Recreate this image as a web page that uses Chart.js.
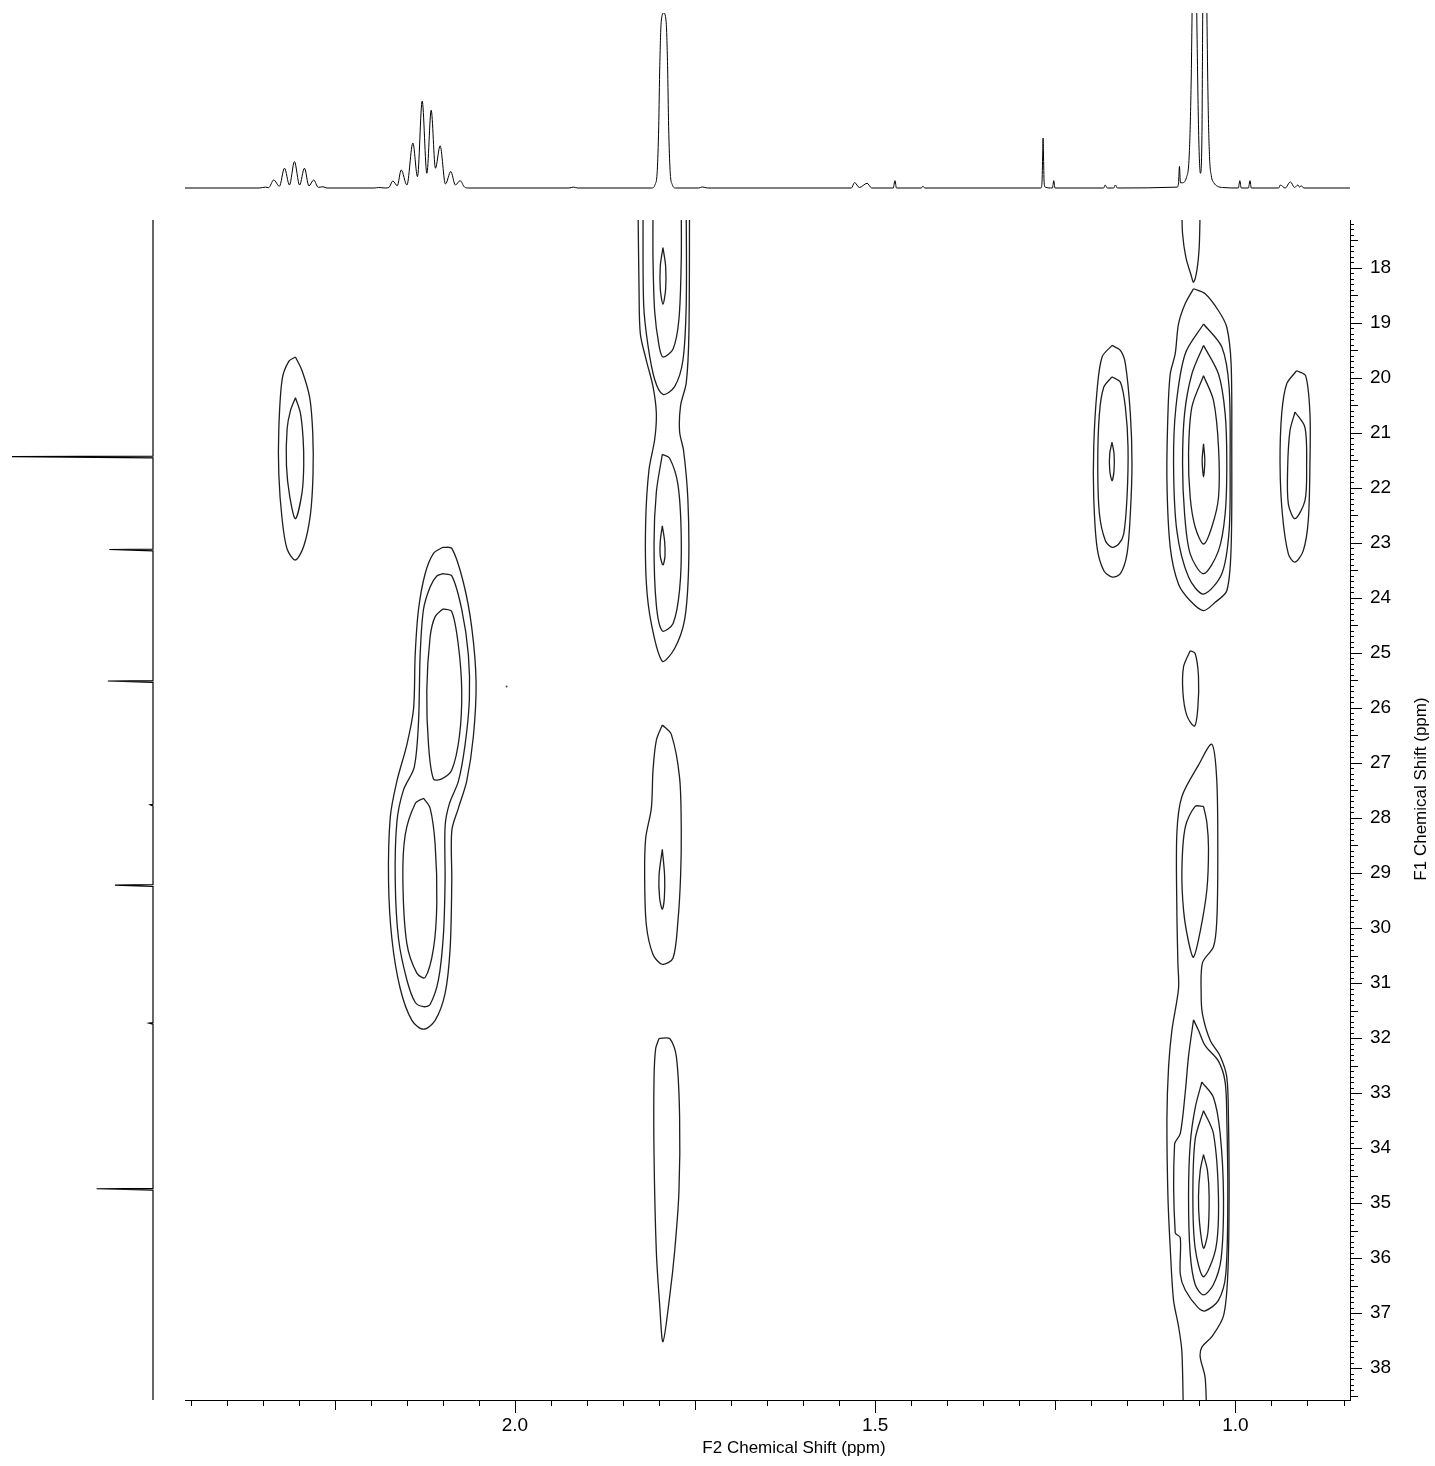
<!DOCTYPE html>
<html>
<head>
<meta charset="utf-8">
<script src="https://cdn.jsdelivr.net/npm/chart.js@4.4.1/dist/chart.umd.min.js"></script>
<style>
  html, body { margin: 0; padding: 0; background: #fff; }
  #wrap { position: relative; width: 1435px; height: 1466px; }
  .box { position: absolute; }
</style>
</head>
<body>
<div id="wrap">
  <div class="box" style="left:0;top:0"><canvas id="main" width="1435" height="1466"></canvas></div>
  <div class="box" style="left:185px;top:8px"><canvas id="proton" width="1165" height="185"></canvas></div>
  <div class="box" style="left:0;top:215px"><canvas id="carbon" width="160" height="1190"></canvas></div>
</div>
<script>
// axis ranges (ppm) and labelled ticks
const f2Range = [0.841, 2.458];
const f1Range = [17.13, 38.58];
const f2Labels = [2.0, 1.5, 1.0];
const f1Labels = [18, 19, 20, 21, 22, 23, 24, 25, 26, 27, 28, 29, 30, 31, 32, 33, 34, 35, 36, 37, 38];
const f2MinorStep = 0.05;
const f1MinorStep = 0.1;

// 1H projection (top), [ppm, intensity]
const protonSpectrum = [
  [2.458, 0], [2.355, 0], [2.3463, 0.5], [2.3420, 0.2], [2.3348, 4.6], [2.3270, 1.0], [2.3199, 11.3],
  [2.3130, 1.7], [2.3061, 15.1], [2.2990, 1.7], [2.2922, 11.3], [2.2860, 1.2], [2.2794, 4.6],
  [2.2730, 0.4], [2.2663, 0.7], [2.2610, 0], [2.195, 0], [2.1893, 0.3], [2.1800, 0], [2.1750, 0.3],
  [2.1694, 4.0], [2.1634, 1.3], [2.1579, 10.3], [2.1500, 1.7], [2.1417, 25.7], [2.1353, 6.5],
  [2.1288, 49.6], [2.1223, 8.4], [2.1163, 44.4], [2.1104, 11.3], [2.1039, 24.1], [2.0965, 2.3],
  [2.0891, 9.4], [2.0827, 1.7], [2.0762, 4.2], [2.0700, 0.5], [2.0650, 0], [1.925, 0], [1.919, 0.5],
  [1.913, 0], [1.8100, 0], [1.8055, 2], [1.8025, 10], [1.8005, 35], [1.7990, 70], [1.7970, 95],
  [1.7936, 100], [1.7902, 95], [1.7882, 70], [1.7867, 35], [1.7847, 10], [1.7817, 2], [1.7772, 0],
  [1.7450, 0], [1.7399, 0.6], [1.7330, 0], [1.5330, 0], [1.5287, 3.1], [1.5220, 0.3], [1.5112, 2.7],
  [1.5050, 0], [1.4750, 0], [1.4726, 4.2], [1.4705, 0], [1.4360, 0], [1.4339, 1.0], [1.4310, 0],
  [1.2700, 0], [1.2685, 3], [1.2675, 20], [1.2670, 28.5], [1.2665, 20], [1.2655, 3], [1.2640, 0.5],
  [1.2540, 0], [1.2522, 4.2], [1.2505, 0], [1.1830, 0], [1.1807, 1.7], [1.1780, 0], [1.1690, 0],
  [1.1666, 1.7], [1.1640, 0], [1.0810, 0.5], [1.0790, 3], [1.0777, 12.3], [1.0764, 3], [1.0740, 3],
  [1.0680, 6], [1.0640, 20], [1.0615, 60], [1.0602, 100], [1.0571, 220], [1.0537, 100], [1.0510, 30],
  [1.0486, 8.4], [1.0465, 30], [1.0454, 100], [1.0425, 220], [1.0396, 100], [1.0380, 50], [1.0360, 18],
  [1.0335, 7], [1.0300, 3], [1.0250, 1], [1.0180, 0.3], [0.9960, 0], [0.9939, 4.2], [0.9920, 0],
  [0.9820, 0], [0.9798, 4.2], [0.9780, 0], [0.9400, 0], [0.9378, 1.7], [0.9310, 0], [0.9237, 3.5],
  [0.9180, 0.3], [0.9134, 1.7], [0.9110, 0.5], [0.9089, 1.3], [0.9050, 0], [0.841, 0]
];

// 13C projection (left), [ppm, intensity]
const carbonSpectrum = [
  [17.13, 0], [21.422, 0], [21.43, 100], [21.455, 0], [23.112, 0], [23.12, 31], [23.145, 0],
  [25.502, 0], [25.51, 32], [25.535, 0], [27.75, 0], [27.76, 2], [27.78, 0], [29.212, 0], [29.22, 27],
  [29.245, 0], [31.72, 0], [31.73, 2.8], [31.75, 0], [34.732, 0], [34.74, 40], [34.765, 0], [38.58, 0]
];

// HSQC contours, [F2 ppm, F1 ppm]; each cross peak from outer to inner level
const peak230 = [
  [[2.3047,19.62],[2.2955,19.87],[2.2849,20.36],[2.2807,21.00],[2.2803,21.75],[2.2840,22.49],[2.2932,23.06],[2.3047,23.31],[2.3163,23.11],[2.3232,22.57],[2.3278,21.75],[2.3278,20.93],[2.3232,20.03],[2.3140,19.70]],
  [[2.3047,20.36],[2.2978,20.64],[2.2941,21.10],[2.2932,21.59],[2.2955,22.08],[2.3047,22.56],[2.3126,22.16],[2.3172,21.59],[2.3163,20.93],[2.3117,20.60]]
];
const peak212 = [
  [[2.1002,23.08],[2.0877,23.10],[2.0716,23.72],[2.0600,24.54],[2.0540,25.53],[2.0577,26.51],[2.0670,27.33],[2.0785,27.82],[2.0877,28.23],[2.0877,29.14],[2.0900,30.37],[2.0970,31.19],[2.1108,31.68],[2.1270,31.84],[2.1431,31.68],[2.1593,31.10],[2.1708,30.20],[2.1755,29.14],[2.1731,27.99],[2.1639,27.33],[2.1501,26.67],[2.1408,26.02],[2.1385,25.03],[2.1339,24.21],[2.1247,23.56],[2.1131,23.19]],
  [[2.1002,23.56],[2.0877,23.60],[2.0739,24.21],[2.0647,25.03],[2.0633,25.85],[2.0693,26.67],[2.0785,27.33],[2.0910,27.74],[2.0970,28.15],[2.0970,29.14],[2.0993,30.12],[2.1062,30.94],[2.1178,31.39],[2.1270,31.43],[2.1385,31.35],[2.1501,30.94],[2.1616,30.20],[2.1662,29.14],[2.1639,28.07],[2.1547,27.49],[2.1399,27.08],[2.1339,26.26],[2.1316,25.03],[2.1270,24.21],[2.1178,23.80],[2.1085,23.60]],
  [[2.1002,24.20],[2.0877,24.25],[2.0785,24.87],[2.0739,25.69],[2.0771,26.51],[2.0877,27.13],[2.1016,27.29],[2.1131,27.29],[2.1200,26.67],[2.1224,25.69],[2.1178,24.71],[2.1108,24.34]],
  [[2.1270,27.64],[2.1178,27.82],[2.1108,28.48],[2.1085,29.55],[2.1131,30.37],[2.1247,30.90],[2.1362,30.82],[2.1501,30.28],[2.1556,29.14],[2.1524,28.31],[2.1385,27.74]]
];
const peak180 = [
  [[1.7955,21.39],[1.7853,21.46],[1.7738,21.94],[1.7692,22.90],[1.7715,23.85],[1.7807,24.47],[1.7955,24.60],[1.8038,24.13],[1.8070,23.03],[1.8038,22.08]],
  [[1.7946,17.63],[1.7909,17.97],[1.7909,18.39],[1.7946,18.66],[1.7983,18.39],[1.7983,17.97]],
  [[1.7955,22.69],[1.7923,22.97],[1.7918,23.24],[1.7946,23.40],[1.7983,23.24],[1.7983,22.97]],
  [[1.7955,26.31],[1.7830,26.48],[1.7715,27.27],[1.7692,28.23],[1.7701,29.05],[1.7738,29.87],[1.7807,30.55],[1.7955,30.66],[1.8084,30.48],[1.8177,29.94],[1.8200,29.05],[1.8186,28.37],[1.8107,27.82],[1.8084,27.13],[1.8038,26.59]],
  [[1.7955,28.57],[1.7923,29.05],[1.7927,29.46],[1.7955,29.66],[1.7992,29.46],[1.8001,29.05]],
  [[1.8001,32.01],[1.7853,32.01],[1.7761,32.33],[1.7715,33.42],[1.7724,34.79],[1.7784,35.88],[1.7853,36.70],[1.7946,37.52],[1.7992,36.84],[1.8038,35.88],[1.8070,34.11],[1.8070,32.74],[1.8047,32.19]]
];
// levels that run off the top of the plot
const peak180Open = [
  [[1.8084,16.88],[1.8084,17.84],[1.8061,18.79],[1.8001,19.41],[1.7946,19.62],[1.7807,19.48],[1.7724,18.93],[1.7692,17.84],[1.7692,16.88]],
  [[1.8223,16.88],[1.8214,18.66],[1.8154,19.41],[1.8061,20.03],[1.7946,20.30],[1.7784,20.16],[1.7669,19.68],[1.7623,18.66],[1.7623,16.88]],
  [[1.8292,16.88],[1.8278,18.39],[1.8260,19.20],[1.8177,19.68],[1.8084,20.16],[1.8038,20.64],[1.8061,21.12],[1.8140,21.67],[1.8186,22.62],[1.8177,23.72],[1.8107,24.47],[1.7955,25.15],[1.7784,24.92],[1.7646,24.40],[1.7590,23.44],[1.7600,22.21],[1.7660,21.32],[1.7715,20.98],[1.7701,20.50],[1.7623,20.09],[1.7586,19.20],[1.7577,16.88]]
];
const peak117 = [
  [[1.1713,19.41],[1.1597,19.50],[1.1528,19.74],[1.1459,20.65],[1.1436,21.56],[1.1459,22.47],[1.1505,23.20],[1.1597,23.56],[1.1713,23.62],[1.1828,23.50],[1.1921,23.08],[1.1967,22.17],[1.1967,21.26],[1.1921,20.23],[1.1851,19.62]],
  [[1.1713,19.98],[1.1597,20.08],[1.1528,20.53],[1.1491,21.26],[1.1505,22.17],[1.1551,22.84],[1.1620,23.02],[1.1713,23.08],[1.1805,22.96],[1.1888,22.47],[1.1911,21.56],[1.1888,20.65],[1.1828,20.17]],
  [[1.1713,21.17],[1.1685,21.38],[1.1685,21.68],[1.1713,21.87],[1.1745,21.68],[1.1745,21.38]]
];
const peak088 = [
  [[0.9150,19.87],[0.9026,19.96],[0.8966,20.65],[0.8966,21.56],[0.8989,22.59],[0.9058,23.14],[0.9173,23.35],[0.9266,23.20],[0.9349,22.47],[0.9381,21.56],[0.9358,20.65],[0.9289,20.11]],
  [[0.9173,20.62],[0.9035,20.90],[0.9012,21.62],[0.9035,22.23],[0.9173,22.56],[0.9266,22.29],[0.9275,21.62],[0.9243,20.96]]
];
const peak105 = [
  [[1.0582,18.38],[1.0420,18.47],[1.0235,18.78],[1.0120,19.08],[1.0060,19.75],[1.0051,21.26],[1.0060,23.08],[1.0120,23.87],[1.0282,24.08],[1.0443,24.23],[1.0628,24.05],[1.0790,23.75],[1.0905,23.08],[1.0951,21.87],[1.0937,20.65],[1.0905,19.93],[1.0836,19.56],[1.0790,19.02],[1.0697,18.65]],
  [[1.0443,19.02],[1.0189,19.44],[1.0088,20.17],[1.0074,21.56],[1.0088,22.78],[1.0189,23.56],[1.0443,23.93],[1.0651,23.62],[1.0813,22.78],[1.0859,21.56],[1.0826,20.53],[1.0697,19.56]],
  [[1.0443,19.41],[1.0235,19.93],[1.0143,20.65],[1.0120,21.56],[1.0143,22.47],[1.0235,23.14],[1.0443,23.56],[1.0628,23.20],[1.0706,22.47],[1.0734,21.56],[1.0706,20.65],[1.0605,19.93]],
  [[1.0443,19.96],[1.0305,20.41],[1.0235,21.26],[1.0235,22.17],[1.0328,22.71],[1.0443,23.02],[1.0559,22.71],[1.0628,22.17],[1.0651,21.38],[1.0605,20.53]],
  [[1.0443,21.20],[1.0425,21.50],[1.0443,21.80],[1.0462,21.50]],
  [[1.0628,24.96],[1.0559,25.01],[1.0513,25.43],[1.0522,26.00],[1.0568,26.33],[1.0674,26.14],[1.0729,25.72],[1.0720,25.25]],
  [[1.0443,27.79],[1.0397,28.08],[1.0374,28.55],[1.0397,29.31],[1.0489,30.06],[1.0582,30.53],[1.0651,30.25],[1.0720,29.68],[1.0743,28.93],[1.0697,28.17],[1.0559,27.79]],
  [[1.0582,31.67],[1.0513,31.86],[1.0420,32.14],[1.0236,32.42],[1.0143,32.80],[1.0120,33.46],[1.0106,34.88],[1.0134,36.29],[1.0236,36.77],[1.0420,36.96],[1.0513,36.91],[1.0697,36.58],[1.0766,36.29],[1.0766,35.63],[1.0836,35.54],[1.0845,33.93],[1.0766,33.74],[1.0697,32.99],[1.0651,32.33]],
  [[1.0466,32.80],[1.0305,33.08],[1.0212,33.74],[1.0166,34.88],[1.0199,36.01],[1.0305,36.48],[1.0443,36.67],[1.0559,36.48],[1.0628,35.92],[1.0651,34.88],[1.0628,33.93],[1.0559,33.27]],
  [[1.0443,33.32],[1.0305,33.74],[1.0236,34.88],[1.0272,35.82],[1.0443,36.34],[1.0559,35.82],[1.0591,34.88],[1.0559,33.84]],
  [[1.0443,34.12],[1.0388,34.41],[1.0365,34.88],[1.0383,35.54],[1.0443,35.82],[1.0499,35.35],[1.0513,34.88],[1.0489,34.41]]
];
const peak105Open = [
  [[1.0743,16.96],[1.0734,17.38],[1.0688,17.81],[1.0614,18.14],[1.0582,18.26],[1.0536,18.05],[1.0503,17.62],[1.0490,16.96]],
  [[1.0720,39.13],[1.0743,37.71],[1.0790,37.24],[1.0859,36.77],[1.0905,35.82],[1.0937,34.88],[1.0951,33.46],[1.0928,32.52],[1.0882,31.86],[1.0790,31.10],[1.0799,30.63],[1.0813,29.68],[1.0813,28.27],[1.0743,27.61],[1.0513,27.04],[1.0328,26.66],[1.0259,27.32],[1.0245,28.74],[1.0259,29.87],[1.0305,30.34],[1.0457,30.63],[1.0476,31.19],[1.0457,31.57],[1.0351,32.04],[1.0212,32.33],[1.0120,32.71],[1.0097,33.46],[1.0088,34.88],[1.0106,36.29],[1.0166,37.05],[1.0328,37.43],[1.0466,37.62],[1.0489,37.80],[1.0420,38.18],[1.0397,39.13]]
];
const noisePoints = [[2.0116, 25.61]];

const FONT = '"Liberation Sans", Arial, sans-serif';
const LINE = '#1e1e1e';

const toXY = pts => pts.map(([x, y]) => ({ x, y }));
const closedSets = [...peak230, ...peak212, ...peak180, ...peak117, ...peak088, ...peak105];
const openSets = [...peak180Open, ...peak105Open];

const contourDatasets = [
  ...closedSets.map(pts => ({ data: toXY([...pts, pts[0]]) })),
  ...openSets.map(pts => ({ data: toXY(pts) }))
].map(ds => ({
  ...ds, showLine: true, borderColor: LINE, borderWidth: 1.3, pointRadius: 0, tension: 0.3
}));

contourDatasets.push({
  data: toXY(noisePoints), showLine: false, pointRadius: 1, pointBackgroundColor: '#444', pointBorderWidth: 0
});

// minor / major tick marks (Chart.js has no minor ticks) and axis titles
const tickMarks = {
  id: 'tickMarks',
  afterDraw(chart) {
    const { ctx, chartArea: a, scales: { x, y } } = chart;
    ctx.save();
    ctx.strokeStyle = '#000';
    ctx.lineWidth = 1;
    ctx.beginPath();
    for (let i = Math.ceil(f2Range[0] / f2MinorStep); i <= Math.floor(f2Range[1] / f2MinorStep); i++) {
      const px = Math.round(x.getPixelForValue(i * f2MinorStep)) + 0.5;
      const len = i % 10 === 0 ? 13 : i % 5 === 0 ? 10 : 6;
      ctx.moveTo(px, a.bottom);
      ctx.lineTo(px, a.bottom + len);
    }
    for (let i = Math.ceil(f1Range[0] / f1MinorStep); i <= Math.floor(f1Range[1] / f1MinorStep); i++) {
      const py = Math.round(y.getPixelForValue(i * f1MinorStep)) + 0.5;
      const len = i % 10 === 0 ? 12 : i % 5 === 0 ? 8 : 4;
      ctx.moveTo(a.right, py);
      ctx.lineTo(a.right + len, py);
    }
    ctx.stroke();

    ctx.fillStyle = '#000';
    ctx.font = '17px ' + FONT;
    ctx.textAlign = 'center';
    ctx.textBaseline = 'middle';
    ctx.fillText('F2 Chemical Shift (ppm)', 794, 1448);
    ctx.translate(1421, 789);
    ctx.rotate(-Math.PI / 2);
    ctx.fillText('F1 Chemical Shift (ppm)', 0, 0);
    ctx.restore();
  }
};

new Chart(document.getElementById('main'), {
  type: 'scatter',
  data: { datasets: contourDatasets },
  options: {
    responsive: false,
    animation: false,
    devicePixelRatio: 1,
    layout: { padding: { left: 185, top: 220, right: 0, bottom: 0 } },
    plugins: { legend: { display: false }, tooltip: { enabled: false } },
    scales: {
      x: {
        type: 'linear', position: 'bottom', reverse: true,
        min: f2Range[0], max: f2Range[1],
        afterBuildTicks: s => { s.ticks = f2Labels.map(v => ({ value: v })); },
        afterFit: s => { s.height = 66; },
        grid: { display: false, drawTicks: false },
        border: { display: true, color: '#000', width: 1 },
        ticks: {
          autoSkip: false, maxRotation: 0, padding: 14, color: '#000',
          font: { family: FONT, size: 19 },
          callback: v => Number(v).toFixed(1)
        }
      },
      y: {
        type: 'linear', position: 'right', reverse: true,
        min: f1Range[0], max: f1Range[1],
        afterBuildTicks: s => { s.ticks = f1Labels.map(v => ({ value: v })); },
        afterFit: s => { s.width = 85; },
        grid: { display: false, drawTicks: false },
        border: { display: true, color: '#000', width: 1 },
        ticks: {
          autoSkip: false, padding: 20, color: '#000',
          font: { family: FONT, size: 19 },
          callback: v => String(v)
        }
      }
    }
  },
  plugins: [tickMarks]
});

// top 1D projection
new Chart(document.getElementById('proton'), {
  type: 'scatter',
  data: {
    datasets: [{
      data: protonSpectrum.map(([x, y]) => ({ x, y })),
      showLine: true, borderColor: '#000', borderWidth: 1, pointRadius: 0,
      cubicInterpolationMode: 'monotone',
      clip: { left: 0, right: 0, top: 0, bottom: 3 }
    }]
  },
  options: {
    responsive: false, animation: false, devicePixelRatio: 1,
    layout: { padding: { left: 0, right: 0, top: 5, bottom: 5 } },
    plugins: { legend: { display: false }, tooltip: { enabled: false } },
    scales: {
      x: { type: 'linear', display: false, reverse: true, min: f2Range[0], max: f2Range[1] },
      y: { type: 'linear', display: false, min: 0, max: 100 }
    }
  }
});

// left 1D projection
new Chart(document.getElementById('carbon'), {
  type: 'scatter',
  data: {
    datasets: [{
      data: carbonSpectrum.map(([ppm, h]) => ({ x: h, y: ppm })),
      showLine: true, borderColor: '#000', borderWidth: 1.2, pointRadius: 0, tension: 0,
      clip: { left: 2, right: 3, top: 0, bottom: 0 }
    }]
  },
  options: {
    responsive: false, animation: false, devicePixelRatio: 1,
    layout: { padding: { left: 12, right: 7, top: 5, bottom: 5 } },
    plugins: { legend: { display: false }, tooltip: { enabled: false } },
    scales: {
      x: { type: 'linear', display: false, reverse: true, min: 0, max: 100 },
      y: { type: 'linear', display: false, reverse: true, min: f1Range[0], max: f1Range[1] }
    }
  }
});
</script>
</body>
</html>
